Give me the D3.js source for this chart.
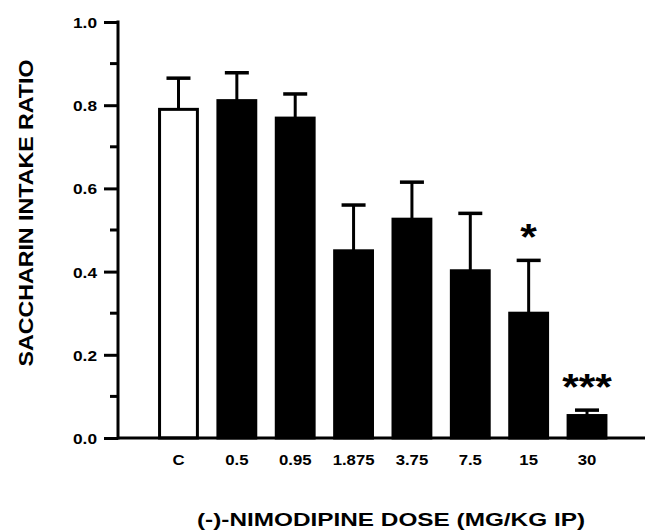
<!DOCTYPE html>
<html>
<head>
<meta charset="utf-8">
<script src="https://cdn.jsdelivr.net/npm/d3@7"></script>
<style>
  body { margin: 0; background: #fff; }
  svg { display: block; }
  text { font-family: "Liberation Sans", Arial, sans-serif; font-weight: bold; fill: #000; }
</style>
</head>
<body>
<script>
var doses = ["C", "0.5", "0.95", "1.875", "3.75", "7.5", "15", "30"];
var means = [0.790, 0.811, 0.769, 0.450, 0.526, 0.402, 0.300, 0.054];
var errTops = [0.865, 0.878, 0.827, 0.560, 0.615, 0.540, 0.427, 0.067];
var marks = ["", "", "", "", "", "", "*", "***"];
var yTicks = [0, 0.2, 0.4, 0.6, 0.8, 1.0];
var yMinor = [0.1, 0.3, 0.5, 0.7, 0.9];

var width = 645, height = 532;

var svg = d3.select("body").append("svg")
  .attr("width", width)
  .attr("height", height);

var x = d3.scaleBand()
  .domain(doses)
  .range([149.3, 616.2])
  .paddingInner(0.3)
  .paddingOuter(0.15);

var y = d3.scaleLinear()
  .domain([0, 1])
  .range([438, 22]);

// stretch text horizontally a bit, the scan looks wide
function widen(sel, k) {
  sel.each(function() {
    var len = this.getComputedTextLength();
    if (len > 0) d3.select(this).attr("textLength", len * k).attr("lengthAdjust", "spacingAndGlyphs");
  });
}

// error bars first so the bars cover the stem
var err = svg.selectAll(".err")
  .data(doses)
  .enter().append("g")
  .attr("class", "err");

err.append("line")
  .attr("x1", function(d) { return x(d) + x.bandwidth() / 2; })
  .attr("x2", function(d) { return x(d) + x.bandwidth() / 2; })
  .attr("y1", function(d, i) { return y(means[i]); })
  .attr("y2", function(d, i) { return y(errTops[i]); })
  .attr("stroke", "#000")
  .attr("stroke-width", 3);

err.append("line")
  .attr("x1", function(d) { return x(d) + x.bandwidth() / 2 - 12; })
  .attr("x2", function(d) { return x(d) + x.bandwidth() / 2 + 12; })
  .attr("y1", function(d, i) { return y(errTops[i]); })
  .attr("y2", function(d, i) { return y(errTops[i]); })
  .attr("stroke", "#000")
  .attr("stroke-width", 3.5);

svg.selectAll(".bar")
  .data(doses)
  .enter().append("rect")
  .attr("class", "bar")
  .attr("x", function(d) { return x(d) + 1.5; })
  .attr("y", function(d, i) { return y(means[i]); })
  .attr("width", x.bandwidth() - 3)
  .attr("height", function(d, i) { return y(0) - y(means[i]); })
  .attr("fill", function(d, i) { return i == 0 ? "#fff" : "#000"; })
  .attr("stroke", "#000")
  .attr("stroke-width", 3);

// significance stars
var stars = svg.selectAll(".star")
  .data(doses)
  .enter().append("text")
  .attr("class", "star")
  .attr("x", function(d) { return x(d) + x.bandwidth() / 2; })
  .attr("y", function(d, i) { return y(errTops[i]) - 10; })
  .attr("text-anchor", "middle")
  .style("font-size", "37px")
  .text(function(d, i) { return marks[i]; });
widen(stars, 1.15);

// y axis
var yAxis = d3.axisLeft(y)
  .tickValues(yTicks)
  .tickFormat(d3.format(".1f"))
  .tickSize(14)
  .tickPadding(7);

var gy = svg.append("g")
  .attr("class", "y-axis")
  .attr("transform", "translate(118,0)")
  .call(yAxis);

gy.select(".domain").remove();
gy.selectAll(".tick line").attr("stroke", "#000").attr("stroke-width", 3);
gy.selectAll(".tick text").style("font-size", "15px").attr("dy", "0.36em");
widen(gy.selectAll(".tick text"), 1.15);

gy.selectAll(".minor")
  .data(yMinor)
  .enter().append("line")
  .attr("class", "minor")
  .attr("x1", -8).attr("x2", 0)
  .attr("y1", function(d) { return y(d); })
  .attr("y2", function(d) { return y(d); })
  .attr("stroke", "#000")
  .attr("stroke-width", 3);

gy.append("line")
  .attr("x1", 0).attr("x2", 0)
  .attr("y1", y(1) - 1.5).attr("y2", y(0) + 1.5)
  .attr("stroke", "#000")
  .attr("stroke-width", 3);

// x axis
var xAxis = d3.axisBottom(x).tickSize(0).tickPadding(16);

var gx = svg.append("g")
  .attr("class", "x-axis")
  .attr("transform", "translate(0," + y(0) + ")")
  .call(xAxis);

gx.select(".domain").remove();
gx.selectAll(".tick text").style("font-size", "15.5px").attr("dy", "0.71em");
widen(gx.selectAll(".tick text"), 1.08);

gx.append("line")
  .attr("x1", 118).attr("x2", width)
  .attr("y1", 0).attr("y2", 0)
  .attr("stroke", "#000")
  .attr("stroke-width", 3);

// titles
svg.append("text")
  .attr("x", 391)
  .attr("y", 526)
  .attr("text-anchor", "middle")
  .attr("textLength", 388)
  .attr("lengthAdjust", "spacingAndGlyphs")
  .style("font-size", "17.5px")
  .text("(-)-NIMODIPINE DOSE (MG/KG IP)");

svg.append("text")
  .attr("transform", "translate(33,213) rotate(-90)")
  .attr("text-anchor", "middle")
  .attr("textLength", 307)
  .attr("lengthAdjust", "spacingAndGlyphs")
  .style("font-size", "20px")
  .text("SACCHARIN INTAKE RATIO");
</script>
</body>
</html>
